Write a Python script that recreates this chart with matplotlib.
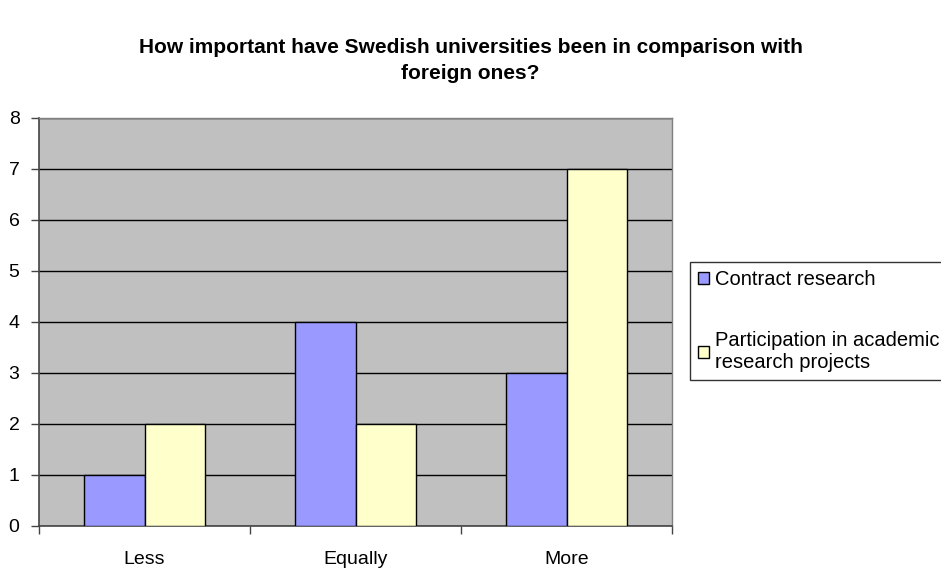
import matplotlib
matplotlib.use("Agg")
import matplotlib.pyplot as plt
import numpy as np
from matplotlib.patches import Patch

plt.rcParams['font.family'] = ['Liberation Sans', 'DejaVu Sans']

categories = ["Less", "Equally", "More"]
contract_research = [1, 4, 3]
academic_projects = [2, 2, 7]
series_labels = ["Contract research", "Participation in academic\nresearch projects"]
title = "How important have Swedish universities been in comparison with\nforeign ones?"

blue = "#9999FF"
yellow = "#FFFFCC"

fig = plt.figure(figsize=(9.41, 5.69), dpi=100)
ax = fig.add_axes([39 / 941, 1 - 525.5 / 569, (672 - 39) / 941, (525.5 - 117.5) / 569])
ax.set_facecolor("#C0C0C0")

x = np.arange(len(categories))
w = 0.288
ax.bar(x - w / 2, contract_research, w, color=blue, edgecolor="black", linewidth=1, zorder=3)
ax.bar(x + w / 2, academic_projects, w, color=yellow, edgecolor="black", linewidth=1, zorder=3)

ax.set_xlim(-0.5, 2.5)
ax.set_ylim(0, 8)
ax.set_yticks(range(0, 9))
ax.yaxis.grid(True, color="black", linewidth=1, zorder=1)
ax.set_axisbelow(True)

# category labels centered, ticks at category boundaries
ax.set_xticks([-0.5, 0.5, 1.5, 2.5])
ax.set_xticklabels([])
ax.set_xticks(x, minor=True)
ax.set_xticklabels(categories, minor=True)
ax.tick_params(axis="x", which="minor", length=0, pad=18, labelsize=14)
ax.tick_params(axis="x", which="major", length=6, width=1, color="#444444")
ax.tick_params(axis="y", length=6, width=1, color="#444444", labelsize=14, pad=8)

for side in ["left", "bottom"]:
    ax.spines[side].set_color("#444444")
    ax.spines[side].set_linewidth(1.2)
for side in ["top", "right"]:
    ax.spines[side].set_color("#808080")
    ax.spines[side].set_linewidth(1)

fig.text(0.5, 1 - 60.5 / 569, title, ha="center", va="center", fontsize=15,
         fontweight="bold", linespacing=1.45)

handles = [Patch(facecolor=blue, edgecolor="black", linewidth=1),
           Patch(facecolor=yellow, edgecolor="black", linewidth=1)]
leg = fig.legend(handles, series_labels, loc="upper left",
                 bbox_to_anchor=(690 / 941, 1 - 262 / 569),
                 frameon=True, fancybox=False, fontsize=14.5,
                 handlelength=0.55, handleheight=0.55, handletextpad=0.3,
                 labelspacing=2.1, borderpad=0.4, borderaxespad=0)
leg.get_frame().set_edgecolor("black")
leg.get_frame().set_linewidth(1)

fig.savefig("out.png", dpi=100)
